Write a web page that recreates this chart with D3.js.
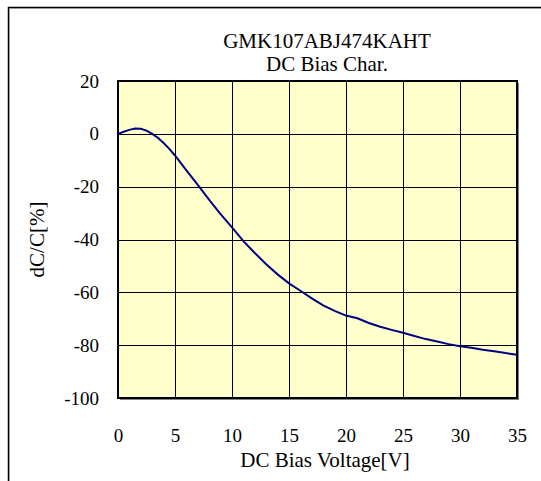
<!DOCTYPE html>
<html>
<head>
<meta charset="utf-8">
<script src="https://cdn.jsdelivr.net/npm/d3@7"></script>
<style>
  body { margin: 0; background: #fff; }
  text { font-family: "Liberation Serif", "Times New Roman", serif; fill: #000; }
</style>
</head>
<body>
<svg width="541" height="481"></svg>
<script>
// DC bias data
var voltage = [0, 0.5, 1, 1.5, 2, 2.5, 3, 3.5, 4, 4.5, 5, 6, 7, 8, 9, 10, 11, 12, 13, 14, 15,
               16, 17, 18, 19, 20, 21, 22, 23, 24, 25, 26, 27, 28, 29, 30, 31, 32, 33, 34, 35];
var dcc = [0, 0.8, 1.5, 2.0, 1.9, 1.2, 0.0, -1.5, -3.5, -5.7, -8.2, -13.8, -19.3, -25.0, -30.4,
           -35.4, -40.6, -45.1, -49.4, -53.2, -56.6, -59.4, -62.3, -64.9, -67.0, -68.8, -69.8,
           -71.6, -73.0, -74.2, -75.3, -76.5, -77.7, -78.6, -79.6, -80.4, -81.0, -81.7, -82.3,
           -83.0, -83.6];
var xTicks = [0, 5, 10, 15, 20, 25, 30, 35];
var yTicks = [20, 0, -20, -40, -60, -80, -100];
var titleLines = ["GMK107ABJ474KAHT", "DC Bias Char."];

var svg = d3.select("svg"),
    margin = {top: 81, right: 24, bottom: 83, left: 118},
    width = +svg.attr("width") - margin.left - margin.right,
    height = +svg.attr("height") - margin.top - margin.bottom;

var data = voltage.map(function(v, i) { return {v: v, c: dcc[i]}; });

var x = d3.scaleLinear().domain([0, 35]).range([0, width]),
    y = d3.scaleLinear().domain([-100, 20]).range([height, 0]);

// outer frame (left + top only, as in the picture)
svg.append("path")
    .attr("d", "M8.5,481V7.5H541")
    .attr("fill", "none")
    .attr("stroke", "#000")
    .attr("stroke-width", 1.5);
svg.append("path")
    .attr("d", "M9.5,481V8.5H541")
    .attr("fill", "none")
    .attr("stroke", "#999")
    .attr("stroke-width", 1);

var g = svg.append("g")
    .attr("transform", "translate(" + margin.left + "," + margin.top + ")");

// shadow + plot background
g.append("rect")
    .attr("x", 2).attr("y", 2)
    .attr("width", width).attr("height", height)
    .attr("fill", "#808080");
g.append("rect")
    .attr("width", width).attr("height", height)
    .attr("fill", "#ffffcc");

// grid
g.selectAll(".gx")
  .data(xTicks.slice(1, -1))
  .enter().append("line")
    .attr("class", "gx")
    .attr("x1", function(d) { return Math.round(x(d)) + 0.5; })
    .attr("x2", function(d) { return Math.round(x(d)) + 0.5; })
    .attr("y1", 0).attr("y2", height)
    .attr("stroke", "#000");
g.selectAll(".gy")
  .data(yTicks.slice(1, -1))
  .enter().append("line")
    .attr("class", "gy")
    .attr("x1", 0).attr("x2", width)
    .attr("y1", function(d) { return Math.round(y(d)) + 0.5; })
    .attr("y2", function(d) { return Math.round(y(d)) + 0.5; })
    .attr("stroke", "#000");

g.append("rect")
    .attr("width", width).attr("height", height)
    .attr("fill", "none")
    .attr("stroke", "#000")
    .attr("stroke-width", 2);

// curve
var line = d3.line()
    .x(function(d) { return x(d.v); })
    .y(function(d) { return y(d.c); });

g.append("path")
    .datum(data)
    .attr("d", line)
    .attr("fill", "none")
    .attr("stroke", "#000080")
    .attr("stroke-width", 2);

// axes (labels only, no tick marks); plain hyphen minus like the original
var fmt = function(d) { return String(d); };
var xAxis = d3.axisBottom(x).tickValues(xTicks).tickFormat(fmt).tickSize(0).tickPadding(0);
var yAxis = d3.axisLeft(y).tickValues(yTicks).tickFormat(fmt).tickSize(0).tickPadding(0);

var gxA = g.append("g")
    .attr("transform", "translate(0," + (height + 38) + ")")
    .call(xAxis);
gxA.select(".domain").remove();
gxA.selectAll("text")
    .attr("font-family", "Liberation Serif")
    .attr("font-size", 19)
    .attr("dy", "0.32em");

var gyA = g.append("g")
    .attr("transform", "translate(-19,0)")
    .call(yAxis);
gyA.select(".domain").remove();
gyA.selectAll("text")
    .attr("font-family", "Liberation Serif")
    .attr("font-size", 19)
    .attr("dy", "0.32em");

// titles
svg.selectAll(".title")
  .data(titleLines)
  .enter().append("text")
    .attr("class", "title")
    .attr("x", 327)
    .attr("y", function(d, i) { return 48 + i * 23; })
    .attr("text-anchor", "middle")
    .attr("font-size", 21)
    .text(function(d) { return d; });

svg.append("text")
    .attr("x", 325)
    .attr("y", 467)
    .attr("text-anchor", "middle")
    .attr("font-size", 21)
    .text("DC Bias Voltage[V]");

svg.append("text")
    .attr("transform", "translate(44," + (margin.top + height / 2) + ") rotate(-90)")
    .attr("text-anchor", "middle")
    .attr("font-size", 21)
    .text("dC/C[%]");
</script>
</body>
</html>
